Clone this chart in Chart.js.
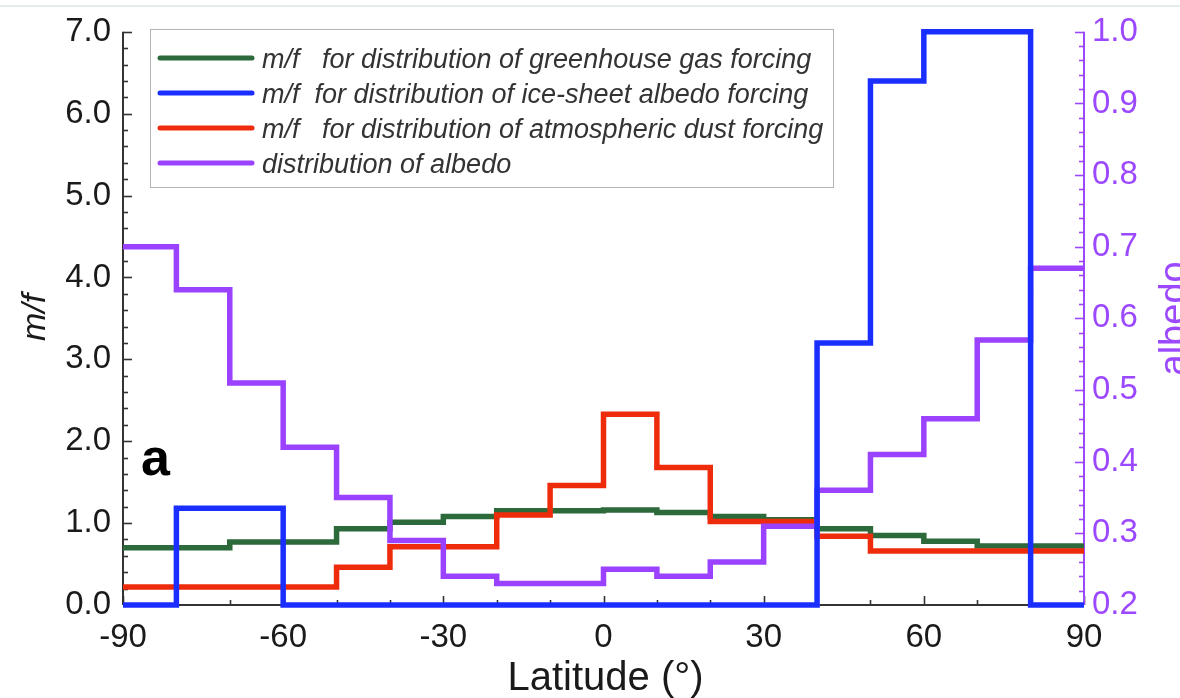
<!DOCTYPE html>
<html>
<head>
<meta charset="utf-8">
<script src="https://cdn.jsdelivr.net/npm/chart.js@4.4.1/dist/chart.umd.min.js"></script>
<style>
html,body{margin:0;padding:0;background:#ffffff;}
canvas{display:block;}
</style>
</head>
<body>
<canvas id="c" width="1180" height="698"></canvas>
<script>
// ---- data ----
const latitudeEdges = [-90,-80,-70,-60,-50,-40,-30,-20,-10,0,10,20,30,40,50,60,70,80,90];
const greenhouseMF = [0.70,0.70,0.77,0.77,0.93,1.01,1.08,1.15,1.15,1.16,1.13,1.08,1.04,0.93,0.85,0.78,0.72,0.72];
const iceSheetMF   = [0,1.18,1.18,0,0,0,0,0,0,0,0,0,0,3.2,6.4,7.0,7.0,0];
const dustMF       = [0.22,0.22,0.22,0.22,0.46,0.71,0.71,1.10,1.46,2.33,1.68,1.02,1.02,0.84,0.66,0.66,0.66,0.66];
const albedoDist   = [0.70,0.64,0.51,0.42,0.35,0.29,0.24,0.23,0.23,0.25,0.24,0.26,0.31,0.36,0.41,0.46,0.57,0.67];
const xTickLabels = ['-90','-60','-30','0','30','60','90'];
const yTickLabels = ['0.0','1.0','2.0','3.0','4.0','5.0','6.0','7.0'];
const albedoTickLabels = ['0.2','0.3','0.4','0.5','0.6','0.7','0.8','0.9','1.0'];
const seriesLabels = [
  'm/f   for distribution of greenhouse gas forcing',
  'm/f  for distribution of ice-sheet albedo forcing',
  'm/f   for distribution of atmospheric dust forcing',
  'distribution of albedo'
];
const xTitle = 'Latitude (°)';
const yTitle = 'm/f';
const y2Title = 'albedo';
const panelLabel = 'a';

// ---- styling ----
const FONT = "'Liberation Sans', Arial, Helvetica, sans-serif";
const C_GREEN = '#2c6a3c', C_BLUE = '#1a2eff', C_RED = '#ee2c0c', C_PURPLE = '#9a42ff';
const C_AXIS = '#333333', C_TEXT = '#1a1a1a', C_PURPLE_TXT = '#9b48ff';

function stepPoints(vals){
  const pts = vals.map((v,i)=>({x: latitudeEdges[i], y: v}));
  pts.push({x: latitudeEdges[vals.length], y: vals[vals.length-1]});
  return pts;
}

function mkDataset(label, vals, color, axis, order){
  return {
    label, data: stepPoints(vals), yAxisID: axis, order,
    borderColor: color, backgroundColor: color, borderWidth: 5.5,
    stepped: true, pointRadius: 0, pointHoverRadius: 0, fill: false,
    clip: 10, borderJoinStyle: 'miter', borderCapStyle: 'butt'
  };
}

const datasets = [
  mkDataset(seriesLabels[0], greenhouseMF, C_GREEN, 'y', 3),
  mkDataset(seriesLabels[1], iceSheetMF, C_BLUE, 'y', 0),
  mkDataset(seriesLabels[2], dustMF, C_RED, 'y', 2),
  mkDataset(seriesLabels[3], albedoDist, C_PURPLE, 'y2', 1)
];

const decor = {
  id: 'decor',
  beforeDatasetsDraw(chart){
    const {ctx, chartArea: a, scales} = chart;
    const x = scales.x, y = scales.y, y2 = scales.y2;
    ctx.save();
    const seg = (x1,y1,x2,y2_)=>{ctx.beginPath();ctx.moveTo(x1,y1);ctx.lineTo(x2,y2_);ctx.stroke();};
    // faint page border line at top
    ctx.strokeStyle = '#e2efe7'; ctx.lineWidth = 2;
    seg(0, 6, chart.width, 6);
    // left axis
    ctx.strokeStyle = C_AXIS; ctx.lineWidth = 2;
    seg(a.left, a.top, a.left, a.bottom);
    for (let k = 0; k <= 35; k++){
      const py = Math.round(y.getPixelForValue(k*0.2)) + 0.5;
      const len = (k % 5 === 0) ? 9 : 5;
      ctx.lineWidth = 1.6;
      seg(a.left, py, a.left + len, py);
    }
    // bottom axis
    ctx.lineWidth = 2;
    seg(a.left, a.bottom, a.right, a.bottom);
    for (let d = -90; d <= 90; d += 10){
      const px = Math.round(x.getPixelForValue(d)) + 0.5;
      const len = (d % 30 === 0) ? 9 : 5;
      ctx.lineWidth = 1.6;
      seg(px, a.bottom, px, a.bottom - len);
    }
    // right axis (albedo)
    ctx.strokeStyle = C_PURPLE_TXT; ctx.lineWidth = 2;
    seg(a.right, a.top, a.right, a.bottom);
    for (let k = 0; k <= 40; k++){
      const py = Math.round(y2.getPixelForValue(0.2 + k*0.02)) + 0.5;
      const len = (k % 5 === 0) ? 9 : 5;
      ctx.lineWidth = 1.6;
      seg(a.right, py, a.right - len, py);
    }
    ctx.restore();
  },
  afterDraw(chart){
    const {ctx, chartArea: a} = chart;
    ctx.save();
    // axis titles
    ctx.fillStyle = C_TEXT;
    ctx.font = `italic 34px ${FONT}`;
    ctx.textAlign = 'center'; ctx.textBaseline = 'alphabetic';
    ctx.save(); ctx.translate(45, (a.top + a.bottom)/2 - 1); ctx.rotate(-Math.PI/2);
    ctx.fillText(yTitle, 0, 0); ctx.restore();

    ctx.font = `40px ${FONT}`;
    ctx.fillText(xTitle, (a.left + a.right)/2 + 2, 690);

    ctx.fillStyle = C_PURPLE_TXT;
    ctx.font = `38px ${FONT}`;
    ctx.save(); ctx.translate(1186, (a.top + a.bottom)/2 + 0); ctx.rotate(-Math.PI/2);
    ctx.fillText(y2Title, 0, 0); ctx.restore();

    // panel label
    ctx.fillStyle = '#000';
    ctx.font = `bold 52px ${FONT}`;
    ctx.textAlign = 'left';
    ctx.fillText(panelLabel, a.left + 18, 475);

    // legend
    const bx = 150.5, by = 29.5, bw = 683, bh = 158;
    ctx.fillStyle = '#ffffff';
    ctx.fillRect(bx, by, bw, bh);
    ctx.strokeStyle = '#b4b4b4'; ctx.lineWidth = 1;
    ctx.strokeRect(bx, by, bw, bh);
    const rows = [58, 93, 128, 163];
    const legendOrder = [0,1,2,3];
    ctx.font = `italic 27px ${FONT}`;
    ctx.textAlign = 'left'; ctx.textBaseline = 'alphabetic';
    legendOrder.forEach((di, r) => {
      const ds = chart.data.datasets[di];
      ctx.strokeStyle = ds.borderColor; ctx.lineWidth = 5; ctx.lineCap = 'round';
      ctx.beginPath(); ctx.moveTo(160, rows[r]); ctx.lineTo(252, rows[r]); ctx.stroke();
      ctx.fillStyle = '#333333';
      ctx.fillText(ds.label, 262, rows[r] + 10);
    });
    ctx.restore();
  }
};

new Chart(document.getElementById('c'), {
  type: 'line',
  data: { datasets },
  options: {
    responsive: false, animation: false, devicePixelRatio: 1,
    layout: { padding: { top: 30, left: 0, right: 0, bottom: 0 } },
    plugins: { legend: { display: false }, tooltip: { enabled: false } },
    elements: { line: { tension: 0 } },
    scales: {
      x: {
        type: 'linear', min: -90, max: 90,
        grid: { display: false, drawTicks: false }, border: { display: false },
        ticks: {
          stepSize: 30, padding: 13, color: C_TEXT, maxRotation: 0, autoSkip: false,
          font: { family: FONT, size: 33 },
          callback: (v, i) => xTickLabels[i]
        },
        afterFit: s => { s.height = 93; }
      },
      y: {
        type: 'linear', position: 'left', min: 0, max: 7,
        grid: { display: false, drawTicks: false }, border: { display: false },
        ticks: {
          stepSize: 1, padding: 12, color: C_TEXT,
          font: { family: FONT, size: 33 },
          callback: (v, i) => yTickLabels[i]
        },
        afterFit: s => { s.width = 123; }
      },
      y2: {
        type: 'linear', position: 'right', min: 0.2, max: 1.0,
        grid: { display: false, drawTicks: false }, border: { display: false },
        ticks: {
          stepSize: 0.1, padding: 8, color: C_PURPLE_TXT,
          font: { family: FONT, size: 33 },
          callback: (v, i) => albedoTickLabels[i]
        },
        afterFit: s => { s.width = 96; }
      }
    }
  },
  plugins: [decor]
});
</script>
</body>
</html>
